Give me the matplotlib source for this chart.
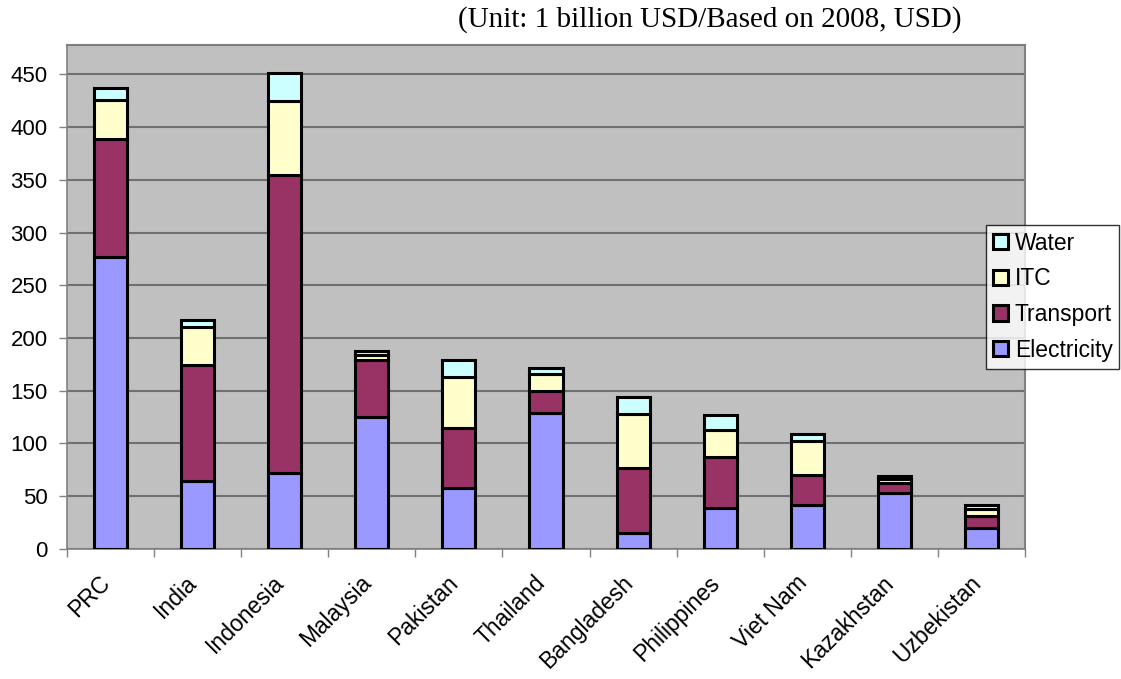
import numpy as np
import matplotlib.pyplot as plt
from matplotlib.transforms import ScaledTranslation

# data (1 billion USD, 2008 base)
paises = ['PRC', 'India', 'Indonesia', 'Malaysia', 'Pakistan', 'Thailand',
          'Bangladesh', 'Philippines', 'Viet Nam', 'Kazakhstan', 'Uzbekistan']
electricity = [277, 64, 72, 125, 58, 129, 15, 39, 42, 53, 20]
transport = [112, 110, 283, 54, 57, 21, 62, 48, 28, 10, 11]
itc = [37, 36, 70, 5, 48, 16, 51, 26, 32, 3, 7]
water = [11, 7, 26, 4, 16, 6, 16, 14, 7, 3, 4]

series = [('Electricity', electricity, '#9999FF'),
          ('Transport', transport, '#993366'),
          ('ITC', itc, '#FFFFCC'),
          ('Water', water, '#CCFFFF')]

plt.rcParams['font.family'] = ['Liberation Sans', 'DejaVu Sans']

fig = plt.figure(figsize=(11.21, 6.79), dpi=100)
ax = fig.add_axes([0.0598, 0.1915, 0.8545, 0.7425])
ax.set_facecolor('#C0C0C0')

x = np.arange(len(paises))
base = np.zeros(len(paises))
handles = []
for nome, vals, cor in series:
    b = ax.bar(x, vals, bottom=base, width=0.38, color=cor,
               edgecolor='black', linewidth=2.2, label=nome, zorder=3)
    handles.append(b)
    base += np.array(vals)

ax.set_xlim(-0.5, len(paises) - 0.5)
ax.set_ylim(0, 478)
ax.set_yticks(range(0, 451, 50))
ax.yaxis.grid(True, color='#707070', linewidth=1.5, zorder=0)
ax.set_axisbelow(True)

ax.set_xticks(x)
ax.set_xticklabels(paises, rotation=45, ha='right', rotation_mode='anchor',
                   fontsize=16.5)
ax.set_xticks(np.arange(-0.5, len(paises), 1), minor=True)
ax.tick_params(axis='x', which='major', length=0, pad=16)
ax.tick_params(axis='x', which='minor', length=6, width=1, color='#808080')
ax.tick_params(axis='y', labelsize=16, length=6, width=1, color='#808080',
               pad=8)

# desloca os rótulos um pouco para a esquerda
desloc = ScaledTranslation(-12 / 100, 0, fig.dpi_scale_trans)
for lbl in ax.get_xticklabels():
    lbl.set_transform(lbl.get_transform() + desloc)

for lado in ['top', 'right']:
    ax.spines[lado].set_color('#808080')
    ax.spines[lado].set_linewidth(1.5)
for lado in ['left', 'bottom']:
    ax.spines[lado].set_color('#808080')
    ax.spines[lado].set_linewidth(1.2)

leg = fig.legend(handles[::-1], [s[0] for s in series][::-1],
                 loc='upper left', bbox_to_anchor=(986 / 1121, 1 - 225 / 679),
                 bbox_transform=fig.transFigure,
                 fontsize=16.5, frameon=True, fancybox=False,
                 edgecolor='black', handlelength=0.65, handleheight=0.65,
                 handletextpad=0.3, borderpad=0.3, labelspacing=0.55,
                 borderaxespad=0)
leg.get_frame().set_linewidth(1.0)

fig.text(962 / 1121, 1 - 20 / 679, '(Unit: 1 billion USD/Based on 2008, USD)',
         ha='right', va='center', fontsize=21, family='Liberation Serif')

plt.savefig('out.png', dpi=100)
